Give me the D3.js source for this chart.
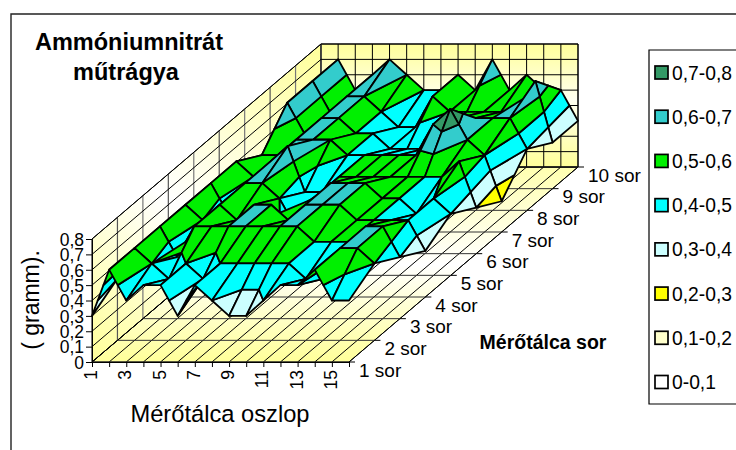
<!DOCTYPE html>
<html><head><meta charset="utf-8">
<script src="https://cdn.jsdelivr.net/npm/d3@7"></script>
<style>html,body{margin:0;padding:0;background:#fff;overflow:hidden}svg{display:block}text{font-family:"Liberation Sans",Arial,sans-serif;fill:#000}</style>
</head><body><svg id="c" width="736" height="450"></svg>
<script>
const columns=d3.range(1,17);
const rowLabels=["1 sor","2 sor","3 sor","4 sor","5 sor","6 sor","7 sor","8 sor","9 sor","10 sor"];
const zTicks=[0,0.1,0.2,0.3,0.4,0.5,0.6,0.7,0.8];
const bandLabels=["0,7-0,8","0,6-0,7","0,5-0,6","0,4-0,5","0,3-0,4","0,2-0,3","0,1-0,2","0-0,1"];
const bandColors=["#339966","#33cccc","#00f000","#00ffff","#ccffff","#ffff00","#ffffcc","#ffffff"];
const row1 =[.3,.6,.4,.5,.5,.3,.5,.4,.3,.3,.4,.5,.5,.6,.4,.4];
const row2 =[.4,.6,.5,.4,.5,.4,.5,.5,.5,.5,.5,.4,.4,.6,.6,.5];
const row3 =[.4,.6,.4,.6,.6,.6,.6,.6,.6,.6,.5,.5,.5,.6,.6,.4];
const row4 =[.3,.6,.5,.6,.5,.6,.6,.5,.6,.6,.6,.5,.5,.5,.5,.3];
const row5 =[.3,.6,.4,.6,.6,.5,.3,.5,.6,.6,.6,.5,.5,.4,.5,.4];
const row6 =[.3,.6,.5,.6,.7,.4,.4,.5,.5,.5,.5,.5,.5,.5,.6,.3];
const row7 =[.3,.5,.5,.6,.6,.6,.5,.5,.5,.5,.5,.7,.8,.6,.5,.2];
const row8 =[.3,.7,.5,.6,.6,.5,.5,.4,.4,.4,.5,.6,.6,.6,.6,.4];
const row9 =[.3,.7,.5,.6,.6,.5,.4,.4,.6,.5,.5,.5,.5,.5,.7,.3];
const row10=[.4,.7,.5,.6,.7,.6,.5,.5,.6,.5,.7,.5,.6,.5,.5,.3];
const surface=[row1,row2,row3,row4,row5,row6,row7,row8,row9,row10];

const svg=d3.select("#c");
const colX=d3.scaleLinear().domain([1,16]).range([92,349]);
const rowDX=d3.scaleLinear().domain([1,10]).range([0,229]);
const rowY=d3.scaleLinear().domain([1,10]).range([362,167]);
const zH=d3.scaleLinear().domain([0,0.8]).range([0,123]);
const P=(c,r,z)=>[colX(c)+rowDX(r),rowY(r)-zH(z)];
const line=d3.line();

const defs=svg.append("defs");
function grad(id,x1,y1,x2,y2,stops){
  const g=defs.append("linearGradient").attr("id",id).attr("gradientUnits","userSpaceOnUse")
    .attr("x1",x1).attr("y1",y1).attr("x2",x2).attr("y2",y2);
  stops.forEach(s=>g.append("stop").attr("offset",s[0]).attr("stop-color",s[1]));
}
grad("gBack",0,44,0,167,[[0,"#ffff99"],[.45,"#fffff0"],[1,"#ffff99"]]);
grad("gLeft",322,44,92,362,[[0,"#ffff99"],[.55,"#ffffff"],[1,"#ffff99"]]);
grad("gFloor",0,362,0,167,[[0,"#ffff99"],[.5,"#ffffff"],[1,"#ffffb0"]]);

svg.append("path").attr("d","M11,450V14H736").attr("fill","none").attr("stroke","#222").attr("stroke-width",1.4);

const g=svg.append("g");
const wall=(pts,fill)=>g.append("path").attr("d",line(pts)+"Z").attr("fill",fill).attr("stroke","#000").attr("stroke-width",1);
wall([P(1,1,0),P(16,1,0),P(16,10,0),P(1,10,0)],"url(#gFloor)");
wall([P(1,1,0),P(1,10,0),P(1,10,.8),P(1,1,.8)],"url(#gLeft)");
wall([P(1,10,0),P(16,10,0),P(16,10,.8),P(1,10,.8)],"url(#gBack)");
const grid=(a,b,col,w)=>g.append("path").attr("d",line([a,b])).attr("stroke",col).attr("stroke-width",w).attr("fill","none");
columns.forEach(c=>{grid(P(c,1,0),P(c,10,0),"#000",1);grid(P(c,10,0),P(c,10,.8),"#000",1);});
d3.range(1,11).forEach(r=>{grid(P(1,r,0),P(16,r,0),"#333",1);grid(P(1,r,0),P(1,r,.8),r%2?"#777":"#555",r==1?1:1.2);});
zTicks.forEach(z=>{grid(P(1,1,z),P(1,10,z),"#000",1);grid(P(1,10,z),P(16,10,z),"#000",1);});

function clip(poly,z0,keepAbove){
  const out=[];
  poly.forEach((a,i)=>{
    const b=poly[(i+1)%poly.length];
    const ia=keepAbove?a[2]>=z0-1e-9:a[2]<=z0+1e-9, ib=keepAbove?b[2]>=z0-1e-9:b[2]<=z0+1e-9;
    if(ia)out.push(a);
    if(ia!==ib){const t=(z0-a[2])/(b[2]-a[2]);out.push([a[0]+t*(b[0]-a[0]),a[1]+t*(b[1]-a[1]),z0]);}
  });
  return out;
}
const bandTops=bandColors.map((_,i)=>0.8-0.1*i);
const lay=svg.append("g").attr("stroke","#000").attr("stroke-width",1.8).attr("stroke-linejoin","round");
for(let r=9;r>=1;r--){
  for(let c=1;c<=15;c++){
    const q=[[c,r,surface[r-1][c-1]],[c+1,r,surface[r-1][c]],[c+1,r+1,surface[r][c]],[c,r+1,surface[r][c-1]]];
    const zmax=d3.max(q,d=>d[2]),zmin=d3.min(q,d=>d[2]);
    bandTops.slice().reverse().forEach((top,k)=>{
      const lo=top-0.1; const idx=bandColors.length-1-k;
      const flat=Math.abs(zmax-zmin)<1e-9;
      if(flat){ if(!(zmin>=lo-1e-9&&zmin<top-1e-9))return; }
      else if(zmax<=lo+1e-9||zmin>=top-1e-9)return;
      const p=clip(clip(q,lo,true),top,false);
      if(p.length<3)return;
      lay.append("path").attr("d",line(p.map(d=>P(d[0],d[1],d[2])))+"Z").attr("fill",bandColors[idx]);
    });
  }
}

const fmt=d=>d3.format(".1f")(d).replace(".",",").replace(/^0,0$/,"0");
const zAxisScale=d3.scaleLinear().domain([0,0.8]).range([362,239]);
const zAxis=svg.append("g").attr("transform","translate(92,0)")
  .call(d3.axisLeft(zAxisScale).tickValues(zTicks).tickFormat(fmt).tickSize(6).tickPadding(2));
zAxis.select(".domain").attr("stroke","#000");
zAxis.selectAll("text").attr("font-size",17.5).attr("dy","0.36em").style("font-family","'Liberation Sans'");
const xs=d3.scalePoint().domain(columns).range([92,349]);
const xAxis=svg.append("g").attr("transform","translate(0,362)")
  .call(d3.axisBottom(xs).tickFormat(d=>d%2?d:"").tickSize(5).tickPadding(0));
xAxis.select(".domain").attr("stroke","#000");
xAxis.selectAll("text").attr("font-size",17.5).attr("text-anchor","end").attr("dominant-baseline","middle")
  .attr("transform","translate(0,8) rotate(-90)").attr("x",0).attr("y",0).attr("dy",0).style("font-family","'Liberation Sans'");
rowLabels.forEach((t,i)=>{
  const p=P(16,i+1,0);
  svg.append("line").attr("x1",p[0]).attr("y1",p[1]).attr("x2",p[0]+6).attr("y2",p[1]).attr("stroke","#000");
  svg.append("text").attr("x",p[0]+10).attr("y",p[1]+14.5).attr("font-size",19).text(t);
});

const T=(x,y,t,s,b,a)=>svg.append("text").attr("x",x).attr("y",y).attr("font-size",s).attr("font-weight",b?"bold":"normal").attr("text-anchor",a||"middle").text(t);
T(129,50,"Ammóniumnitrát",23.5,true);
T(126,80,"műtrágya",23.5,true);
T(220,421.5,"Mérőtálca oszlop",23.7,false);
T(543,349,"Mérőtálca sor",19.5,true);
svg.append("text").attr("transform","translate(39,300) rotate(-90)").attr("text-anchor","middle").attr("font-size",23).text("( gramm).");

svg.append("path").attr("d","M736,50H649V404H736").attr("fill","#fff").attr("stroke","#000").attr("stroke-width",1.2);
const ly=d3.scalePoint().domain(bandLabels).range([72.5,382]);
bandLabels.forEach((t,i)=>{
  svg.append("rect").attr("x",655).attr("y",ly(t)-6.5).attr("width",13).attr("height",13).attr("fill",bandColors[i]).attr("stroke","#000").attr("stroke-width",1.7);
  svg.append("text").attr("x",672).attr("y",ly(t)+7).attr("font-size",19.3).text(t);
});
</script></body></html>
